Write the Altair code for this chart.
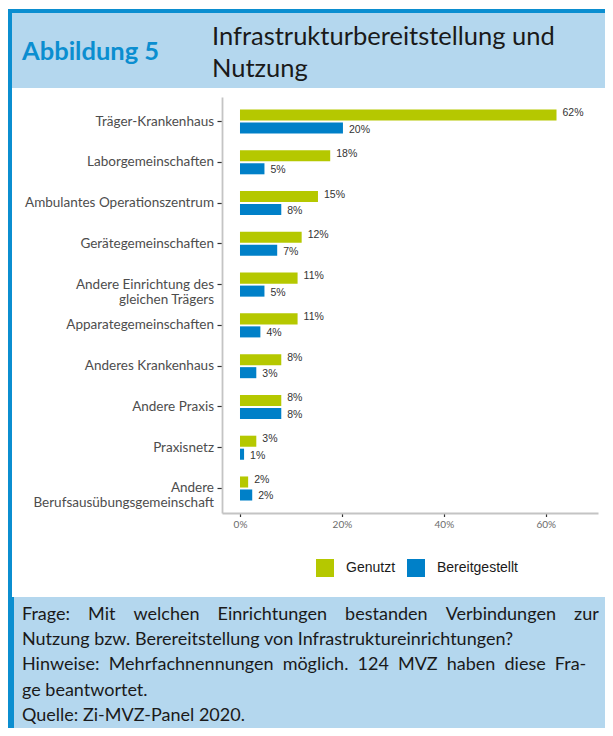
import altair as alt
import pandas as pd

categories = [
    "Träger-Krankenhaus",
    "Laborgemeinschaften",
    "Ambulantes Operationszentrum",
    "Gerätegemeinschaften",
    "Andere Einrichtung des\ngleichen Trägers",
    "Apparategemeinschaften",
    "Anderes Krankenhaus",
    "Andere Praxis",
    "Praxisnetz",
    "Andere\nBerufsausübungsgemeinschaft",
]
genutzt = [62.1, 17.7, 15.3, 12.1, 11.3, 11.3, 8.1, 8.1, 3.2, 1.6]
bereitgestellt = [20.2, 4.8, 8.1, 7.3, 4.8, 4.0, 3.2, 8.1, 0.8, 2.4]
series = ["Genutzt", "Bereitgestellt"]
colors = ["#b5c800", "#0080c8"]
x_ticks = [0, 20, 40, 60]

title_label = "Abbildung 5"
title_lines = ["Infrastrukturbereitstellung und", "Nutzung"]
footer_lines = [
    "Frage: Mit welchen Einrichtungen bestanden Verbindungen zur",
    "Nutzung bzw. Berereitstellung von Infrastruktureinrichtungen?",
    "Hinweise: Mehrfachnennungen möglich. 124 MVZ haben diese Fra-",
    "ge beantwortet.",
    "Quelle: Zi-MVZ-Panel 2020.",
]

rows = []
for c, g, b in zip(categories, genutzt, bereitgestellt):
    rows.append({"cat": c, "series": series[0], "value": g})
    rows.append({"cat": c, "series": series[1], "value": b})
df = pd.DataFrame(rows)

dummy = pd.DataFrame({"a": [0]})

W, H = 376, 416
PL, PT, PR, PB = 214, 89, 7, 215

FRAME_BLUE = "#0b8ed0"
LIGHT_BLUE = "#b4d7ee"

def rect(x, x2, y, y2, color):
    return alt.Chart(dummy).mark_rect(color=color).encode(
        x=alt.value(x), x2=alt.value(x2), y=alt.value(y), y2=alt.value(y2)
    )

bg = (
    rect(-PL, W + PR, -88, H + PB, FRAME_BLUE)
    + rect(-PL + 4, W + PR, -84, -9, LIGHT_BLUE)
    + rect(-PL + 4, W + PR, -9, 500, "white")
    + rect(-PL + 6, W + PR, 500, H + PB, LIGHT_BLUE)
)

def txt(s, x, y, size, color="#1a1a1a", weight="normal", align="left"):
    return alt.Chart(dummy).mark_text(
        text=s, font="Lato", fontSize=size, fontWeight=weight,
        color=color, align=align, baseline="middle"
    ).encode(x=alt.value(x), y=alt.value(y))

header = (
    txt(title_label, -200, -45, 25.5, FRAME_BLUE, "bold")
    + txt(title_lines[0], -10, -60, 25.5)
    + txt(title_lines[1], -10, -28, 25.5)
)

FS = 18
line_y = [518, 543, 568, 593.5, 619]
# justified lines: widen word gaps with fixed-width unicode spaces
gap_fill = {
    0: " \u2002\u2005",
    2: " \u2009\u2009",
}
footer = None
for i, line in enumerate(footer_lines):
    s = line.replace(" ", gap_fill[i]) if i in gap_fill else line
    t = txt(s, -200, line_y[i], FS)
    footer = t if footer is None else footer + t

x_enc = alt.X(
    "value:Q",
    scale=alt.Scale(domain=[-3.53, 70.24], nice=False, zero=False),
    axis=alt.Axis(
        title=None, values=x_ticks, labelExpr="datum.value + '%'", grid=False,
        domainColor="#c4c4c4", domainWidth=1.8, tickColor="#333333",
        tickSize=3.5, tickWidth=1.2, labelFont="Lato", labelFontSize=10,
        labelColor="#6b6b6b", labelPadding=3, zindex=1,
    ),
)
y_enc = alt.Y(
    "cat:N", sort=categories,
    scale=alt.Scale(paddingInner=0.41, paddingOuter=0.306),
    axis=alt.Axis(
        title=None, labelExpr="split(datum.label, '\\n')", labelLineHeight=15,
        domainColor="#c4c4c4", domainWidth=1.8, tickColor="#333333",
        tickSize=5, tickWidth=1.2, labelFont="Lato", labelFontSize=13.5,
        labelColor="#4d4d4d", labelPadding=3.5, zindex=1, labelLimit=400,
    ),
)
yoff = alt.YOffset("series:N", sort=series, scale=alt.Scale(paddingInner=0.15))

bars = alt.Chart(df).mark_bar().encode(
    x=x_enc, y=y_enc, yOffset=yoff,
    color=alt.Color(
        "series:N", sort=series,
        scale=alt.Scale(domain=series, range=colors),
        legend=alt.Legend(
            title=None, orient="none", direction="horizontal",
            legendX=94, legendY=462, symbolType="square", symbolSize=324,
            symbolStrokeWidth=0, symbolOpacity=1, labelFont="Liberation Sans",
            labelFontSize=14, labelColor="#1a1a1a", labelOffset=12,
            columnPadding=11, padding=0,
        ),
    ),
)

def labels(name, dy):
    return alt.Chart(df).transform_filter(
        alt.datum.series == name
    ).transform_calculate(
        lab="format(datum.value, '.0f') + '%'"
    ).mark_text(
        align="left", baseline="middle", dx=6, dy=dy,
        font="Liberation Sans", fontSize=10.5, color="#333333"
    ).encode(x="value:Q", y=alt.Y("cat:N", sort=categories), yOffset=yoff, text="lab:N")

chart = (bg + header + footer + bars + labels(series[0], -2) + labels(series[1], 1.5)).properties(
    width=W, height=H,
    padding={"left": PL, "top": PT, "right": PR, "bottom": PB},
    autosize=alt.AutoSizeParams(type="none"),
    background="white",
).configure_view(strokeWidth=0)

chart.save("out.html", embed_options={"renderer": "svg", "actions": False})
